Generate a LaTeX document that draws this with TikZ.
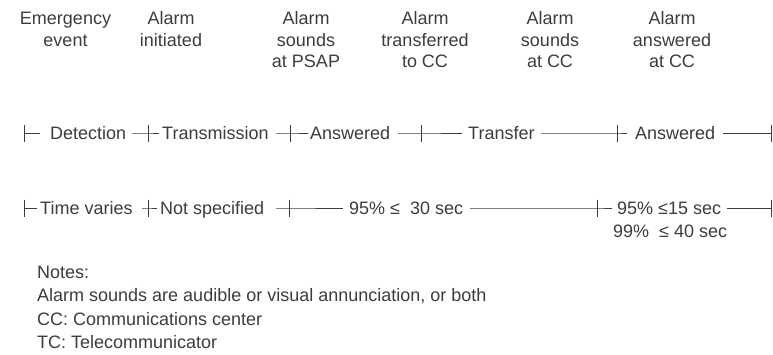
\documentclass[tikz,border=0pt]{standalone}
\usepackage{fontspec}
\setmainfont{Liberation Sans}
\definecolor{ink}{HTML}{3C3C3C}
\tikzset{
  txt/.style={inner sep=0pt, text=ink, font=\fontsize{18}{21}\selectfont},
  lbl/.style={txt, anchor=base west},
  hdr/.style={txt, anchor=base},
  rule/.style={draw=ink, line width=0.9pt},
}
\newcommand{\tickat}[1]{\draw[rule] ([yshift=8pt]#1) -- ([yshift=-9pt]#1);}
\begin{document}
\begin{tikzpicture}[x=1pt,y=-1pt]
\useasboundingbox (0,0) rectangle (773,355);
% headers
\node[hdr] (h1a) at (65.5,25) {Emergency};
\node[hdr] (h1b) at (65.5,47) {event};
\node[hdr] (h2a) at (171,25) {Alarm};
\node[hdr] (h2b) at (171,47) {initiated};
\node[hdr] (h3a) at (306,25) {Alarm};
\node[hdr] (h3b) at (306,47) {sounds};
\node[hdr] (h3c) at (306,68) {at PSAP};
\node[hdr] (h4a) at (425,25) {Alarm};
\node[hdr] (h4b) at (425,47) {transferred};
\node[hdr] (h4c) at (425,68) {to CC};
\node[hdr] (h5a) at (550,25) {Alarm};
\node[hdr] (h5b) at (550,47) {sounds};
\node[hdr] (h5c) at (550,68) {at CC};
\node[hdr] (h6a) at (672,25) {Alarm};
\node[hdr] (h6b) at (672,47) {answered};
\node[hdr] (h6c) at (672,68) {at CC};
% row 1
\coordinate (a0) at (24,133);
\coordinate (a1) at (148,133);
\coordinate (a2) at (290,133);
\coordinate (a3) at (421,133);
\coordinate (a4) at (617,133);
\coordinate (a5) at (771,133);
\node[lbl] (det) at (50,140) {Detection};
\node[lbl] (trm) at (162,140) {Transmission};
\node[lbl] (ans1) at (310,140) {Answered};
\node[lbl] (trf) at (468,140) {Transfer};
\node[lbl] (ans2) at (635,140) {Answered};
\draw[rule] (a0) -- ([xshift=-10pt]det.west |- a0);
\draw[rule] ([xshift=6pt]det.east |- a1) -- (a1) -- ([xshift=-3pt]trm.west |- a1);
\draw[rule] ([xshift=7pt]trm.east |- a2) -- (a2) -- ([xshift=-2pt]ans1.west |- a2);
\draw[rule] ([xshift=8pt]ans1.east |- a3) -- (a3) -- ([xshift=-6pt]trf.west |- a3);
\draw[rule] ([xshift=6pt]trf.east |- a4) -- (a4) -- ([xshift=-8pt]ans2.west |- a4);
\draw[rule] ([xshift=8pt]ans2.east |- a5) -- (a5);
\foreach \p in {a0,a1,a2,a3,a4,a5} {\tickat{\p}}
% row 2
\coordinate (b0) at (24,208);
\coordinate (b1) at (148,208);
\coordinate (b2) at (289,208);
\coordinate (b3) at (597,208);
\coordinate (b4) at (771,208);
\node[lbl] (tv) at (40,215) {Time varies};
\node[lbl] (ns) at (160,215) {Not specified};
\node[lbl] (p30) at (349,215) {95\% ≤\ \ 30 sec};
\node[lbl] (p15) at (617,215) {95\% ≤15 sec};
\node[lbl] (p40) at (613,237) {99\%\ \ ≤ 40 sec};
\draw[rule] (b0) -- ([xshift=-3pt]tv.west |- b0);
\draw[rule] ([xshift=9pt]tv.east |- b1) -- (b1) -- ([xshift=-3pt]ns.west |- b1);
\draw[rule] ([xshift=12pt]ns.east |- b2) -- (b2) -- ([xshift=-6pt]p30.west |- b2);
\draw[rule] ([xshift=7pt]p30.east |- b3) -- (b3) -- ([xshift=-5pt]p15.west |- b3);
\draw[rule] ([xshift=6pt]p15.east |- b4) -- (b4);
\foreach \p in {b0,b1,b2,b3,b4} {\tickat{\p}}
% notes
\node[lbl] (n0) at (37,278) {Notes:};
\node[lbl] (n1) at (37,301.5) {Alarm sounds are audible or visual annunciation, or both};
\node[lbl] (n2) at (37,325) {CC: Communications center};
\node[lbl] (n3) at (37,348.5) {TC: Telecommunicator};
\end{tikzpicture}
\end{document}
